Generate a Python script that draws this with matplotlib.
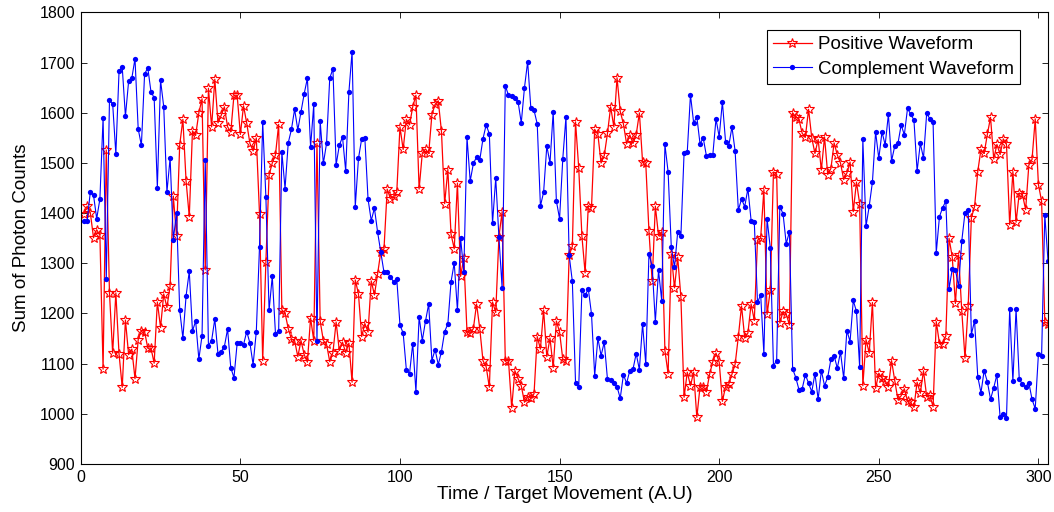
import numpy as np
import matplotlib
matplotlib.use("Agg")
import matplotlib.pyplot as plt

positive = [
    1399, 1414, 1401, 1351, 1367, 1356, 1089, 1526, 1241, 1121,
    1241, 1119, 1053, 1187, 1118, 1129, 1070, 1148, 1166, 1164,
    1131, 1131, 1101, 1223, 1172, 1239, 1212, 1255, 1434, 1355,
    1536, 1587, 1464, 1393, 1564, 1555, 1600, 1628, 1287, 1649,
    1572, 1667, 1580, 1595, 1612, 1572, 1562, 1635, 1635, 1557,
    1614, 1579, 1539, 1524, 1550, 1399, 1106, 1303, 1476, 1500,
    1516, 1577, 1207, 1201, 1170, 1149, 1146, 1114, 1146, 1118,
    1103, 1191, 1146, 1539, 1185, 1146, 1139, 1104, 1122, 1183,
    1126, 1143, 1122, 1141, 1063, 1267, 1239, 1154, 1180, 1163,
    1265, 1237, 1279, 1323, 1329, 1448, 1429, 1434, 1442, 1572,
    1527, 1587, 1576, 1612, 1635, 1448, 1520, 1528, 1519, 1596,
    1617, 1624, 1563, 1419, 1487, 1358, 1329, 1460, 1274, 1311,
    1163, 1161, 1170, 1219, 1170, 1106, 1094, 1053, 1223, 1202,
    1353, 1403, 1106, 1106, 1012, 1086, 1070, 1056, 1023, 1034,
    1032, 1040, 1154, 1129, 1207, 1114, 1151, 1092, 1185, 1163,
    1109, 1105, 1316, 1334, 1582, 1490, 1354, 1281, 1415, 1411,
    1567, 1557, 1500, 1515, 1559, 1612, 1572, 1670, 1603, 1578,
    1538, 1556, 1539, 1556, 1600, 1502, 1499, 1364, 1264, 1414,
    1355, 1363, 1126, 1080, 1319, 1251, 1312, 1233, 1033, 1083,
    1056, 1083, 993, 1054, 1054, 1044, 1079, 1104, 1121, 1103,
    1025, 1054, 1059, 1079, 1099, 1154, 1215, 1151, 1161, 1219,
    1186, 1346, 1351, 1447, 1198, 1246, 1482, 1478, 1181, 1204,
    1199, 1177, 1600, 1592, 1587, 1559, 1552, 1607, 1550, 1519,
    1547, 1486, 1552, 1477, 1489, 1540, 1516, 1500, 1467, 1480,
    1502, 1403, 1462, 1419, 1056, 1148, 1121, 1222, 1051, 1081,
    1071, 1066, 1054, 1106, 1066, 1028, 1036, 1050, 1025, 1023,
    1013, 1063, 1041, 1086, 1034, 1037, 1014, 1184, 1140, 1140,
    1155, 1350, 1313, 1220, 1317, 1204, 1111, 1215, 1391, 1413,
    1483, 1527, 1519, 1557, 1591, 1508, 1537, 1517, 1548, 1537,
    1377, 1483, 1382, 1440, 1437, 1407, 1496, 1507, 1588, 1457,
    1424, 1183, 1180,
]

complement = [
    1385, 1385, 1442, 1436, 1389, 1428, 1590, 1269, 1625, 1618,
    1518, 1683, 1691, 1593, 1663, 1669, 1708, 1568, 1535, 1677,
    1690, 1642, 1630, 1451, 1665, 1612, 1442, 1510, 1347, 1401,
    1207, 1151, 1235, 1284, 1165, 1185, 1109, 1156, 1506, 1136,
    1146, 1189, 1119, 1124, 1134, 1169, 1092, 1072, 1141, 1141,
    1138, 1164, 1141, 1098, 1164, 1333, 1582, 1432, 1206, 1274,
    1160, 1165, 1522, 1449, 1540, 1567, 1607, 1566, 1602, 1638,
    1669, 1532, 1617, 1146, 1584, 1499, 1539, 1669, 1688, 1496,
    1535, 1552, 1484, 1641, 1722, 1413, 1509, 1548, 1550, 1428,
    1385, 1410, 1362, 1322, 1282, 1282, 1273, 1263, 1269, 1177,
    1161, 1088, 1080, 1140, 1044, 1193, 1146, 1185, 1219, 1106,
    1128, 1098, 1124, 1164, 1179, 1263, 1301, 1206, 1350, 1283,
    1551, 1464, 1499, 1512, 1506, 1548, 1576, 1558, 1380, 1470,
    1352, 1251, 1654, 1635, 1633, 1630, 1622, 1580, 1650, 1702,
    1609, 1605, 1578, 1414, 1442, 1534, 1500, 1602, 1424, 1389,
    1508, 1592, 1316, 1264, 1062, 1054, 1247, 1236, 1249, 1199,
    1076, 1151, 1116, 1143, 1069, 1067, 1062, 1054, 1031, 1078,
    1061, 1086, 1089, 1120, 1088, 1179, 1099, 1319, 1294, 1183,
    1286, 1225, 1537, 1482, 1332, 1292, 1362, 1354, 1520, 1522,
    1636, 1580, 1592, 1538, 1550, 1514, 1516, 1516, 1588, 1552,
    1622, 1542, 1534, 1572, 1523, 1406, 1428, 1413, 1449, 1385,
    1382, 1222, 1237, 1119, 1389, 1331, 1096, 1106, 1413, 1399,
    1339, 1363, 1090, 1072, 1048, 1050, 1078, 1061, 1044, 1080,
    1029, 1086, 1056, 1073, 1109, 1116, 1091, 1123, 1071, 1166,
    1144, 1226, 1204, 1093, 1547, 1374, 1414, 1462, 1562, 1509,
    1562, 1536, 1597, 1504, 1534, 1539, 1576, 1556, 1609, 1597,
    1586, 1484, 1539, 1510, 1599, 1588, 1582, 1321, 1393, 1411,
    1424, 1249, 1288, 1287, 1254, 1345, 1401, 1407, 1158, 1186,
    1074, 1042, 1086, 1064, 1029, 1052, 1078, 993, 1000, 992,
    1209, 1065, 1209, 1069, 1059, 1054, 1062, 1029, 1010, 1119,
    1116, 1397, 1305,
]

x_ticks = [0, 50, 100, 150, 200, 250, 300]
y_ticks = [900, 1000, 1100, 1200, 1300, 1400, 1500, 1600, 1700, 1800]

t = np.arange(1, len(positive) + 1)

plt.rcParams['font.family'] = ['Liberation Sans', 'DejaVu Sans']

fig = plt.figure(figsize=(10.54, 5.12), dpi=100)
ax = fig.add_axes([0.0766, 0.0938, 0.9177, 0.8818])

ax.plot(t, positive, color='red', lw=0.9, marker='*', ms=7.5,
        mfc='none', mec='red', mew=0.8, label='Positive Waveform')
ax.plot(t, complement, color='blue', lw=0.8, marker='o', ms=3.8,
        mfc='blue', mec='blue', mew=0, label='Complement Waveform')

ax.set_xlim(0, 303)
ax.set_ylim(900, 1800)
ax.set_xticks(x_ticks)
ax.set_yticks(y_ticks)
ax.tick_params(direction='in', top=True, right=True, labelsize=11.5,
               length=4, width=0.6, pad=4)
for s in ax.spines.values():
    s.set_linewidth(0.8)

ax.set_xlabel('Time / Target Movement (A.U)', fontsize=13.8, labelpad=1)
ax.set_ylabel('Sum of Photon Counts', fontsize=13.5, labelpad=7)

leg = ax.legend(loc='upper right', bbox_to_anchor=(0.971, 0.961),
                borderaxespad=0, fontsize=13.5, frameon=True, fancybox=False,
                edgecolor='black', framealpha=1, borderpad=0.33,
                handlelength=2.1, handletextpad=0.3, labelspacing=0.4)
leg.get_frame().set_linewidth(0.8)

fig.savefig('out.png', dpi=100)
